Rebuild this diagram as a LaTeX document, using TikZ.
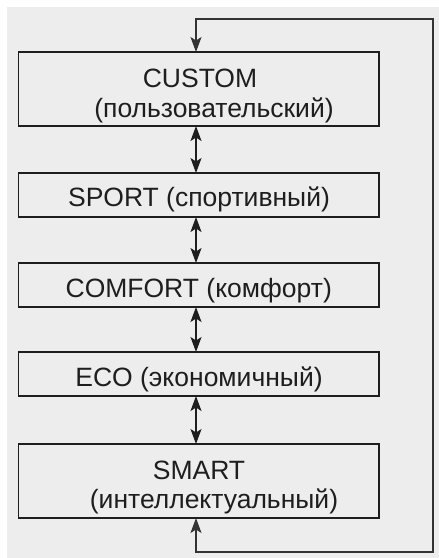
\documentclass[tikz,border=0pt]{standalone}
\usepackage{fontspec}
\setmainfont{Liberation Sans}
\usetikzlibrary{arrows.meta}
\definecolor{bggray}{HTML}{EDEDED}
\definecolor{ink}{HTML}{1E1E1E}
\definecolor{loopink}{HTML}{333333}
\begin{document}
\begin{tikzpicture}[x=1pt,y=-1pt,
  box/.style={draw=ink,line width=1.3pt,minimum width=360.5pt,inner sep=0pt,outer sep=0pt},
  lbl/.style={anchor=base,text=ink,font=\fontsize{26.5}{30}\selectfont,inner sep=0pt},
  link/.style={draw=ink,line width=1.3pt,{Stealth[length=15pt,width=11pt,inset=3.5pt]}-{Stealth[length=15pt,width=11pt,inset=3.5pt]}},
  loopline/.style={draw=loopink,line width=1.1pt,{Stealth[length=15pt,width=11pt,inset=3.5pt]}-{Stealth[length=15pt,width=11pt,inset=3.5pt]}}]
\useasboundingbox (0,0) rectangle (439,558);
\fill[white] (0,0) rectangle (439,558);
\fill[bggray] (7,7) rectangle (439,558);

\node[box,minimum height=74pt] (custom) at (198.75,89) {};
\node[box,minimum height=44pt] (sport) at (198.75,195) {};
\node[box,minimum height=44pt] (comfort) at (198.75,285) {};
\node[box,minimum height=44pt] (eco) at (198.75,374) {};
\node[box,minimum height=74pt] (smart) at (198.75,481) {};

\node[lbl] (t1a) at (200,87) {CUSTOM};
\node[lbl] (t1b) at (214,117) {(пользовательский)};
\node[lbl] (t2) at (199,206) {SPORT (спортивный)};
\node[lbl] (t3) at (198.7,297.3) {COMFORT (комфорт)};
\node[lbl] (t4) at (199,386) {ECO (экономичный)};
\node[lbl] (t5a) at (199,479) {SMART};
\node[lbl] (t5b) at (214,508) {(интеллектуальный)};

\coordinate (ax) at (196,0);
\coordinate (br) at (433,552);
\coordinate (tr) at (433,19);

\draw[link] (custom.south -| ax) -- (sport.north -| ax);
\draw[link] (sport.south -| ax) -- (comfort.north -| ax);
\draw[link] (comfort.south -| ax) -- (eco.north -| ax);
\draw[link] (eco.south -| ax) -- (smart.north -| ax);
\draw[loopline] (smart.south -| ax) |- (br) -- (tr) -| (custom.north -| ax);
\end{tikzpicture}
\end{document}
